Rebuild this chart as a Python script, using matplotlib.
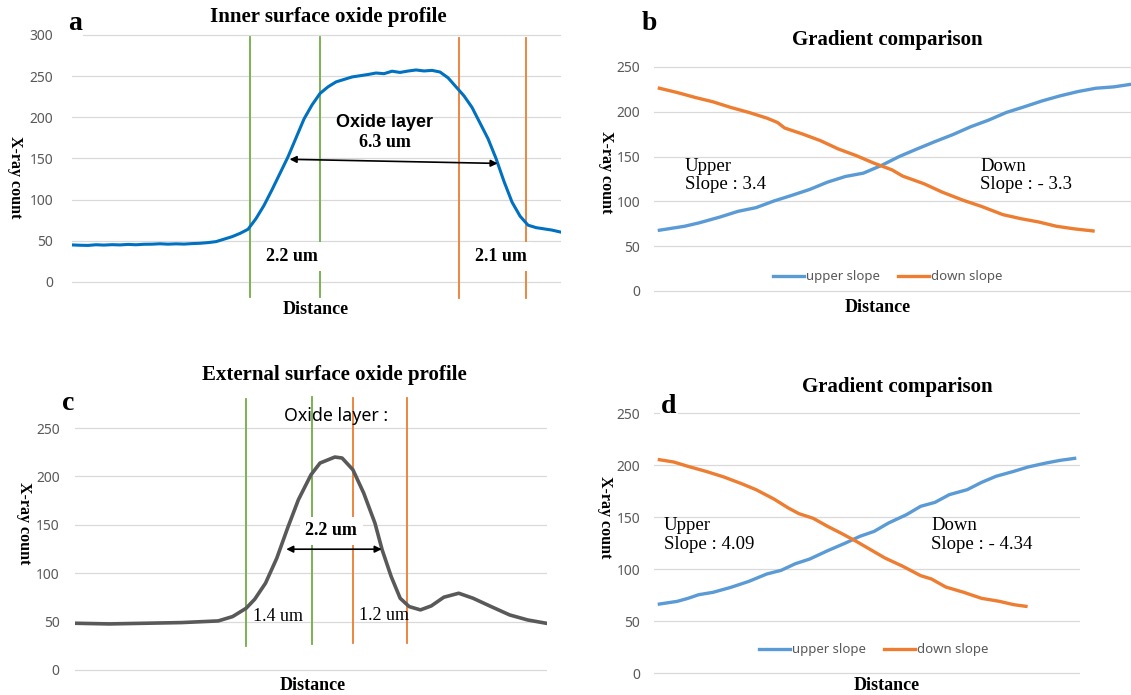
import matplotlib
matplotlib.use("Agg")
import matplotlib.pyplot as plt

W, H = 1131, 695
SERIF = "Liberation Serif"
SANS = "Noto Sans"
GRID = "#D9D9D9"
TICK = "#595959"
GREEN = "#70AD47"
ORANGE = "#ED7D31"

# ---- panel a : inner surface profile (distance in um) ----
a_dist = [0.0, 0.25, 0.5, 0.75, 1.0, 1.25, 1.5, 1.75, 2.0, 2.25, 2.5, 2.75, 3.0, 3.25,
          3.5, 3.75, 4.0, 4.25, 4.5, 4.75, 5.0, 5.25, 5.5, 5.75, 6.0, 6.25, 6.5, 6.75,
          7.0, 7.25, 7.5, 7.75, 8.0, 8.25, 8.5, 8.75, 9.0, 9.25, 9.5, 9.75, 10.0, 10.25,
          10.5, 10.75, 11.0, 11.25, 11.5, 11.75, 12.0, 12.25, 12.5, 12.75, 13.0, 13.25,
          13.5, 13.75, 14.0, 14.25, 14.5, 14.75, 15.0, 15.28]
a_count = [45.0, 44.6, 44.4, 45.2, 44.8, 45.3, 45.0, 45.6, 45.2, 45.8, 45.9, 46.4, 45.9, 46.3,
           46.0, 46.6, 47.0, 47.8, 49, 52, 55, 59, 64, 77, 93, 112, 132, 152,
           175, 198, 215, 229, 237, 243, 246, 249, 250.5, 252, 253.8, 253, 256, 254.5,
           256.2, 257.5, 256.3, 257, 255, 248, 237, 226, 212, 193, 174, 150,
           122, 97, 80, 69, 66, 64.5, 63, 60.5]
a_green = [5.56, 7.75]
a_orange = [12.1, 14.2]

# ---- panel b : gradient comparison ----
b_up_x = [0, 1.4, 2.2, 3.4, 4.4, 5.4, 6.4, 7.4, 8.4, 9.4, 10.4, 11.4, 12.4, 13.4,
          14.4, 15.4, 16.4, 17.4, 18.4, 19.4, 20.4, 21.4, 22.4, 23.4, 24.4, 25.4, 26.36]
b_up_y = [67.8, 72.2, 75.9, 82.6, 88.9, 93.0, 100.4, 106.7, 113.3, 121.5, 127.8, 131.5,
          140.0, 150.0, 158.5, 166.7, 174.5, 183.3, 190.7, 199.3, 205.6, 212.2, 217.8,
          222.6, 226.3, 227.8, 230.7]
b_down_x = [0, 1, 2, 3, 4, 5, 6, 6.6, 7, 8, 9, 10, 11, 12, 13, 13.6, 14.8, 15.8, 17,
            18, 19.2, 20.2, 21.2, 22.2, 23.2, 24.24]
b_down_y = [226.3, 221.5, 216.0, 211.1, 204.8, 199.3, 193.0, 188.1, 181.9, 175.2, 167.8,
            158.5, 151.1, 142.6, 135.2, 128.2, 119.6, 110.4, 101.1, 94.4, 85.2, 80.7,
            77.0, 72.2, 69.3, 67.0]

# ---- panel c : external surface profile ----
c_dist = [0.0, 0.76, 1.57, 2.37, 3.18, 3.50, 3.80, 3.99, 4.23, 4.48, 4.72, 4.96, 5.24,
          5.44, 5.77, 5.93, 6.17, 6.41, 6.66, 6.82, 7.02, 7.22, 7.42, 7.67, 7.91, 8.19,
          8.52, 8.84, 9.24, 9.65, 10.05, 10.46]
c_count = [48.3, 47.6, 48.3, 49.0, 50.7, 55.2, 63.8, 73.1, 89.7, 115.5, 146.6, 175.9,
           201.7, 213.8, 220.0, 219.0, 206.9, 182.8, 151.7, 124.1, 96.6, 74.1, 65.5,
           62.1, 66.2, 75.2, 79.3, 74.1, 65.5, 56.9, 51.7, 48.3]
c_green = [3.80, 5.26]
c_orange = [6.17, 7.37]

# ---- panel d : gradient comparison ----
d_up_x = [0, 1.25, 2, 2.75, 3.75, 5, 6.25, 7.5, 8.5, 9.5, 10.5, 11.75, 13, 14, 15, 16,
          17.25, 18.25, 19.25, 20.25, 21.5, 22.5, 23.5, 24.75, 25.75, 27, 28, 29]
d_up_y = [66.3, 68.9, 71.8, 75.3, 77.6, 82.4, 88.1, 95.2, 98.7, 105.1, 109.6, 117.6,
          125.0, 131.4, 136.2, 144.2, 152.2, 160.3, 164.1, 171.5, 176.3, 183.3, 189.1,
          193.9, 198.1, 201.9, 204.5, 206.4]
d_down_x = [0, 1, 2, 3.25, 4.5, 5.75, 6.75, 8, 9, 9.75, 10.75, 11.75, 12.75, 13.75,
            14.75, 15.75, 17, 18.25, 19, 20, 21.25, 22.5, 23.75, 24.75, 25.6]
d_down_y = [205.1, 202.9, 198.7, 193.9, 188.5, 182.0, 176.3, 167.3, 158.7, 153.2, 148.7,
            141.0, 134.0, 126.6, 118.6, 110.6, 102.6, 93.6, 90.4, 82.7, 77.6, 71.8,
            68.9, 65.7, 64.1]

fig = plt.figure(figsize=(W / 100, H / 100), dpi=100)


def px_axes(l, t, r, b):
    return fig.add_axes([l / W, 1 - b / H, (r - l) / W, (b - t) / H])


def style(ax, ticks, pad):
    for s in ax.spines.values():
        s.set_visible(False)
    ax.set_yticks(ticks)
    ax.set_xticks([])
    ax.tick_params(axis="y", length=0, pad=pad, labelcolor=TICK, labelsize=10)
    for lab in ax.get_yticklabels():
        lab.set_fontfamily(SANS)
    ax.grid(axis="y", color=GRID, lw=0.9)
    ax.set_axisbelow(True)


def ftext(x, y, s, **kw):
    fig.text(x / W, 1 - y / H, s, **kw)


def frame_texts(label, lxy, title, txy, ylab_xy, xlab_xy):
    ftext(*lxy, label, family=SERIF, weight="bold", fontsize=20, ha="center", va="center",
          bbox=dict(facecolor="white", edgecolor="none", pad=1))
    ftext(*txy, title, family=SERIF, weight="bold", fontsize=15, ha="center", va="center")
    ftext(*ylab_xy, "X-ray count", family=SERIF, weight="bold", fontsize=11.5,
          rotation=270, ha="center", va="center")
    ftext(*xlab_xy, "Distance", family=SERIF, weight="bold", fontsize=13,
          ha="center", va="center")


# ================= a =================
ax = px_axes(72, 33, 561, 300)
style(ax, range(0, 301, 50), 13.5)
ax.set_xlim(0, 15.28)
ax.set_ylim(-21.9, 302.4)
ax.plot(a_dist, a_count, color="#0070C0", lw=2.2, zorder=3)
for x in a_green:
    ax.plot([x, x], [297.6, -18.2], color=GREEN, lw=1.3, clip_on=False, zorder=2)
for x in a_orange:
    ax.plot([x, x], [296.4, -19.4], color=ORANGE, lw=1.3, clip_on=False, zorder=2)
ax.annotate("", xy=(13.3, 144), xytext=(6.8, 149),
            arrowprops=dict(arrowstyle="<|-|>", color="black", lw=1.2, mutation_scale=10,
                            shrinkA=0, shrinkB=0), zorder=4)
ax.text(9.78, 194, "Oxide layer", family="Liberation Sans", weight="bold", fontsize=13,
        ha="center", va="center")
ax.text(9.78, 169, "6.3 um", family=SERIF, weight="bold", fontsize=13,
        ha="center", va="center")
for x, s in [(6.88, "2.2 um"), (13.4, "2.1 um")]:
    ax.text(x, 31, s, family=SERIF, weight="bold", fontsize=13, ha="center", va="center",
            zorder=5, bbox=dict(facecolor="white", edgecolor="none", pad=4))
frame_texts("a", (75, 24), "Inner surface oxide profile", (328, 17), (15, 177), (316, 309))

# ================= b =================
ax = px_axes(654, 60, 1131, 295)
style(ax, range(0, 251, 50), 10)
ax.set_xlim(-0.3, 26.36)
ax.set_ylim(-4.5, 257.8)
ax.plot(b_up_x, b_up_y, color="#5B9BD5", lw=2.4, label="upper slope")
ax.plot(b_down_x, b_down_y, color=ORANGE, lw=2.4, label="down slope")
ax.legend(loc="center", bbox_to_anchor=(0.49, 0.077), ncol=2, frameon=False,
          handlelength=2.35, handletextpad=0.15, columnspacing=1.35,
          prop=dict(family=SANS, size=9.5), labelcolor=TICK)
frame_texts("b", (649, 24), "Gradient comparison", (887, 40), (606, 172), (878, 307))
ftext(685, 171, "Upper", family=SERIF, fontsize=13.5, va="baseline")
ftext(685, 189, "Slope : 3.4", family=SERIF, fontsize=13.5, va="baseline")
ftext(980, 171, "Down", family=SERIF, fontsize=13.5, va="baseline")
ftext(980, 189, "Slope : - 3.3", family=SERIF, fontsize=13.5, va="baseline")

# ================= c =================
ax = px_axes(75, 395, 547, 676)
style(ax, range(0, 251, 50), 11)
ax.set_xlim(0, 10.48)
ax.set_ylim(-6.2, 284.1)
ax.plot(c_dist, c_count, color="#595959", lw=2.6, zorder=3)
ax.plot([c_green[0]] * 2, [280, 25], color=GREEN, lw=1.3, zorder=2)
ax.plot([c_green[1]] * 2, [281.7, 26.5], color=GREEN, lw=1.3, zorder=2)
for x in c_orange:
    ax.plot([x, x], [281, 28.3], color=ORANGE, lw=1.3, zorder=2)
ax.text(5.8, 262, "Oxide layer :", family=SANS, fontsize=12.8, ha="center", va="center")
ax.text(5.69, 144, "2.2 um", family=SERIF, weight="bold", fontsize=13, ha="center",
        va="center", zorder=5, bbox=dict(facecolor="white", edgecolor="none", pad=4))
ax.annotate("", xy=(6.81, 124.8), xytext=(4.69, 124.8),
            arrowprops=dict(arrowstyle="<|-|>", color="black", lw=1.2, mutation_scale=10,
                            shrinkA=0, shrinkB=0), zorder=4)
ax.text(4.51, 55, "1.4 um", family=SERIF, fontsize=13, ha="center", va="center")
ax.text(6.86, 56, "1.2 um", family=SERIF, fontsize=13, ha="center", va="center")
frame_texts("c", (68, 403), "External surface oxide profile", (334, 375), (24, 523), (313, 685))

# ================= d =================
ax = px_axes(654, 405, 1080, 678)
style(ax, range(0, 251, 50), 10)
ax.set_xlim(-0.375, 29.375)
ax.set_ylim(-4.8, 257.7)
ax.plot(d_up_x, d_up_y, color="#5B9BD5", lw=2.4, label="upper slope")
ax.plot(d_down_x, d_down_y, color=ORANGE, lw=2.4, label="down slope")
ax.legend(loc="center", bbox_to_anchor=(0.516, 0.103), ncol=2, frameon=False,
          handlelength=2.35, handletextpad=0.15, columnspacing=1.35,
          prop=dict(family=SANS, size=9.5), labelcolor=TICK)
frame_texts("d", (669, 407), "Gradient comparison", (897, 387), (605, 517), (887, 685))
ftext(664, 530, "Upper", family=SERIF, fontsize=13.5, va="baseline")
ftext(664, 549, "Slope : 4.09", family=SERIF, fontsize=13.5, va="baseline")
ftext(931, 530, "Down", family=SERIF, fontsize=13.5, va="baseline")
ftext(931, 549, "Slope : - 4.34", family=SERIF, fontsize=13.5, va="baseline")

fig.savefig("out.png", dpi=100)
